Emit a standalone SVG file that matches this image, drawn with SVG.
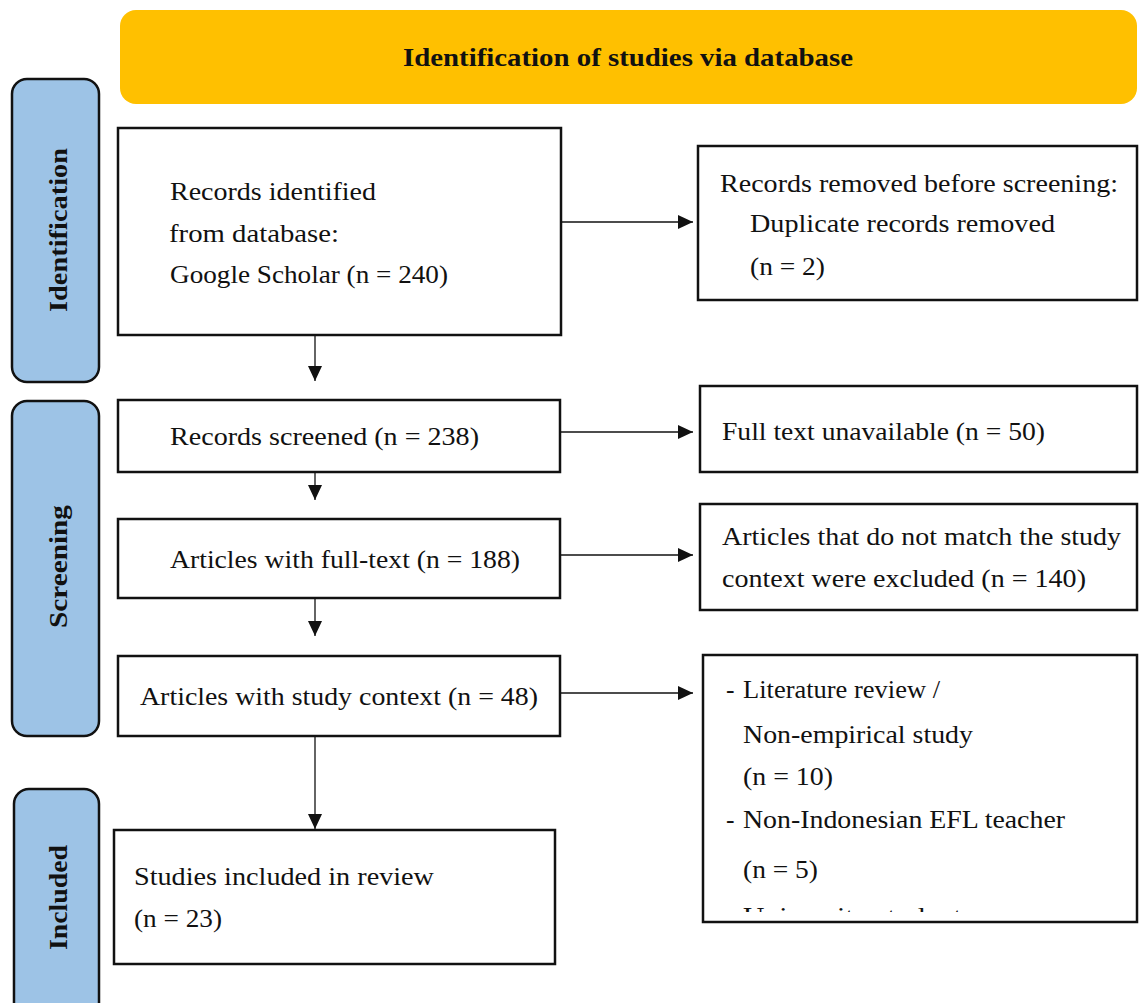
<svg xmlns="http://www.w3.org/2000/svg" width="1139" height="1003" viewBox="0 0 1139 1003">
<style>
.t{font-family:"Liberation Serif","Times New Roman",serif;font-size:25.5px;fill:#111}
.b{font-family:"Liberation Serif","Times New Roman",serif;font-size:25px;font-weight:bold;fill:#111}
.box{fill:#fff;stroke:#111;stroke-width:2.5}
.side{fill:#9DC3E6;stroke:#111;stroke-width:2.5}
.c{stroke:#111;stroke-width:1.3;fill:none}
</style>
<defs>
<marker id="ah" viewBox="0 0 15 14" refX="15" refY="7" markerWidth="15" markerHeight="14" markerUnits="userSpaceOnUse" orient="auto">
<path d="M0,0 L15,7 L0,14 Z" fill="#111"/>
</marker>
<clipPath id="clipLast"><rect x="703" y="880" width="436" height="32"/></clipPath>
</defs>
<rect width="1139" height="1003" fill="#fff"/>

<g id="header">
<rect x="120" y="10" width="1017" height="94" rx="16" fill="#FFC000"/>
<text class="b" x="403" y="66" textLength="450" lengthAdjust="spacingAndGlyphs">Identification of studies via database</text>
</g>

<g id="phase-identification">
<rect class="side" x="12" y="79" width="87" height="303" rx="15"/>
<text class="b" transform="translate(67,312) rotate(-90)" textLength="164" lengthAdjust="spacingAndGlyphs">Identification</text>
</g>
<g id="phase-screening">
<rect class="side" x="12" y="401" width="87" height="335" rx="15"/>
<text class="b" transform="translate(67,628) rotate(-90)" textLength="123" lengthAdjust="spacingAndGlyphs">Screening</text>
</g>
<g id="phase-included">
<rect class="side" x="14" y="789" width="85" height="240" rx="15"/>
<text class="b" transform="translate(67,950) rotate(-90)" textLength="105" lengthAdjust="spacingAndGlyphs">Included</text>
</g>

<g id="connectors">
<line class="c" x1="315" y1="318" x2="315" y2="381" marker-end="url(#ah)"/>
<line class="c" x1="315" y1="456" x2="315" y2="500" marker-end="url(#ah)"/>
<line class="c" x1="315" y1="580" x2="315" y2="636" marker-end="url(#ah)"/>
<line class="c" x1="315" y1="736" x2="315" y2="829" marker-end="url(#ah)"/>
<line class="c" x1="561" y1="222" x2="693" y2="222" marker-end="url(#ah)"/>
<line class="c" x1="561" y1="432" x2="693" y2="432" marker-end="url(#ah)"/>
<line class="c" x1="561" y1="555" x2="693" y2="555" marker-end="url(#ah)"/>
<line class="c" x1="561" y1="693" x2="693" y2="693" marker-end="url(#ah)"/>
</g>

<g id="records-identified">
<rect class="box" x="118" y="128" width="443" height="207"/>
<text class="t" x="170" y="200" textLength="206" lengthAdjust="spacingAndGlyphs">Records identified</text>
<text class="t" x="169" y="242" textLength="170" lengthAdjust="spacingAndGlyphs">from database:</text>
<text class="t" x="170" y="283" textLength="278" lengthAdjust="spacingAndGlyphs">Google Scholar (n = 240)</text>
</g>

<g id="records-screened">
<rect class="box" x="118" y="400" width="442" height="72"/>
<text class="t" x="170" y="445" textLength="309" lengthAdjust="spacingAndGlyphs">Records screened (n = 238)</text>
</g>

<g id="full-text">
<rect class="box" x="118" y="519" width="442" height="79"/>
<text class="t" x="170" y="568" textLength="350" lengthAdjust="spacingAndGlyphs">Articles with full-text (n = 188)</text>
</g>

<g id="study-context">
<rect class="box" x="118" y="656" width="442" height="80"/>
<text class="t" x="140" y="705" textLength="398" lengthAdjust="spacingAndGlyphs">Articles with study context (n = 48)</text>
</g>

<g id="included">
<rect class="box" x="114" y="830" width="441" height="134"/>
<text class="t" x="134" y="885" textLength="300" lengthAdjust="spacingAndGlyphs">Studies included in review</text>
<text class="t" x="134" y="927" textLength="88" lengthAdjust="spacingAndGlyphs">(n = 23)</text>
</g>

<g id="removed">
<rect class="box" x="698" y="146" width="439" height="154"/>
<text class="t" x="720" y="192" textLength="398" lengthAdjust="spacingAndGlyphs">Records removed before screening:</text>
<text class="t" x="750" y="232" textLength="305" lengthAdjust="spacingAndGlyphs">Duplicate records removed</text>
<text class="t" x="750" y="275" textLength="75" lengthAdjust="spacingAndGlyphs">(n = 2)</text>
</g>

<g id="unavailable">
<rect class="box" x="700" y="386" width="437" height="86"/>
<text class="t" x="722" y="440" textLength="323" lengthAdjust="spacingAndGlyphs">Full text unavailable (n = 50)</text>
</g>

<g id="not-match">
<rect class="box" x="700" y="504" width="437" height="106"/>
<text class="t" x="722" y="545" textLength="399" lengthAdjust="spacingAndGlyphs">Articles that do not match the study</text>
<text class="t" x="722" y="587" textLength="364" lengthAdjust="spacingAndGlyphs">context were excluded (n = 140)</text>
</g>

<g id="excluded-reasons">
<rect class="box" x="703" y="655" width="434" height="267"/>
<text class="t" x="726" y="698">-</text>
<text class="t" x="743" y="698" textLength="197" lengthAdjust="spacingAndGlyphs">Literature review /</text>
<text class="t" x="743" y="743" textLength="230" lengthAdjust="spacingAndGlyphs">Non-empirical study</text>
<text class="t" x="743" y="785" textLength="90" lengthAdjust="spacingAndGlyphs">(n = 10)</text>
<text class="t" x="726" y="828">-</text>
<text class="t" x="743" y="828" textLength="322" lengthAdjust="spacingAndGlyphs">Non-Indonesian EFL teacher</text>
<text class="t" x="743" y="878" textLength="75" lengthAdjust="spacingAndGlyphs">(n = 5)</text>
<g clip-path="url(#clipLast)">
<text class="t" x="726" y="925">-</text>
<text class="t" x="743" y="925" textLength="230" lengthAdjust="spacingAndGlyphs">University students</text>
</g>
</g>
</svg>
